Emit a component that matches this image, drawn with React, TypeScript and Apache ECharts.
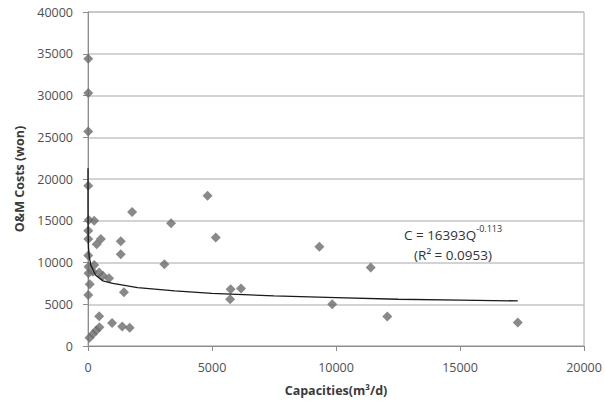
import React, { useEffect, useRef } from "react";
import * as echarts from "echarts";

// Observed data points (capacity m3/d, O&M cost won)
const capacities = [
  10, 10, 10, 10, 30, 250, 1780, 10, 10, 350, 520, 1320, 1320, 10,
  20, 250, 20, 200, 450, 600, 850, 70, 10, 1450,
  450, 60, 200, 330, 460, 970, 1380, 1680,
  3350, 3080, 4820, 5150, 5750, 6170, 5730, 9330, 9850, 11400, 12070, 17330,
];
const costs = [
  34400, 30300, 25700, 19200, 15100, 15000, 16050, 13800, 12800, 12200, 12800, 12550, 11000, 10850,
  9500, 9700, 8700, 8900, 8800, 8400, 8100, 7400, 6100, 6450,
  3550, 1000, 1450, 1850, 2250, 2750, 2350, 2200,
  14700, 9800, 18000, 13000, 6800, 6900, 5600, 11900, 4990, 9400, 3520, 2800,
];

// Power trendline
const trendQ = [0.1, 1, 5, 20, 50, 120, 300, 600, 1000, 2000, 3500, 5000, 7500, 10000, 12500, 15000, 17330];
const trendC = [21300, 16400, 13700, 11800, 10700, 9600, 8500, 7800, 7500, 7000, 6600, 6300, 6000, 5800, 5600, 5500, 5400];

const xTicks = { min: 0, max: 20000, interval: 5000 };
const yTicks = { min: 0, max: 40000, interval: 5000 };

const FONT = "'Open Sans', 'Liberation Sans', sans-serif";

export default function App() {
  const ref = useRef<HTMLDivElement>(null);
  useEffect(() => {
    if (!ref.current) return;
    const chart = echarts.init(ref.current, undefined, { renderer: "svg" });
    const scatterData = capacities.map((c, i) => [c, costs[i]]);
    const trendData = trendQ.map((q, i) => [q, trendC[i]]);
    const plain = (v: number) => String(v);
    chart.setOption({
      animation: false,
      backgroundColor: "#ffffff",
      grid: {
        left: 88,
        right: 21,
        top: 12,
        bottom: 61,
        show: true,
        borderColor: "#a6a6a6",
        borderWidth: 1,
      },
      xAxis: {
        type: "value",
        min: xTicks.min,
        max: xTicks.max,
        interval: xTicks.interval,
        name: "Capacities(m³/d)",
        nameLocation: "middle",
        nameGap: 38,
        nameTextStyle: { fontFamily: FONT, fontSize: 12.5, fontWeight: "bold", color: "#3a3a3a" },
        axisLine: { show: true, lineStyle: { color: "#8c8c8c", width: 1 } },
        axisTick: { show: true, length: 5, lineStyle: { color: "#8c8c8c" } },
        axisLabel: { margin: 15, fontFamily: FONT, fontSize: 12.5, color: "#505050", formatter: plain },
        splitLine: { show: false },
      },
      yAxis: {
        type: "value",
        min: yTicks.min,
        max: yTicks.max,
        interval: yTicks.interval,
        name: "O&M Costs (won)",
        nameLocation: "middle",
        nameGap: 56,
        nameTextStyle: { fontFamily: FONT, fontSize: 12.5, fontWeight: "bold", color: "#3a3a3a" },
        axisLine: { show: true, lineStyle: { color: "#8c8c8c", width: 1 } },
        axisTick: { show: true, length: 5, lineStyle: { color: "#8c8c8c" } },
        axisLabel: { margin: 15, fontFamily: FONT, fontSize: 12.5, color: "#505050", formatter: plain },
        splitLine: { show: true, lineStyle: { color: "#c4c4c4", width: 1.5 } },
      },
      series: [
        {
          type: "scatter",
          data: scatterData,
          symbol: "diamond",
          symbolSize: 10,
          itemStyle: { color: "#6b6b6b" },
          z: 2,
        },
        {
          type: "line",
          data: trendData,
          showSymbol: false,
          symbol: "none",
          smooth: false,
          lineStyle: { color: "#1a1a1a", width: 1.3 },
          z: 3,
        },
      ],
      graphic: [
        {
          type: "text",
          x: 453,
          y: 233,
          style: {
            text: "{a|C = 16393Q}{b|-0.113}",
            textAlign: "center",
            textVerticalAlign: "middle",
            rich: {
              a: { fontFamily: FONT, fontSize: 13.5, fill: "#333333", lineHeight: 18, verticalAlign: "bottom" },
              b: { fontFamily: FONT, fontSize: 9, fill: "#333333", lineHeight: 18, verticalAlign: "top", padding: [0, 0, 6, 0] },
            },
          },
        },
        {
          type: "text",
          x: 453,
          y: 255,
          style: {
            text: "(R² = 0.0953)",
            textAlign: "center",
            textVerticalAlign: "middle",
            fontFamily: FONT,
            fontSize: 13.5,
            fill: "#333333",
          },
        },
      ],
    });
    return () => chart.dispose();
  }, []);
  return (
    <div
      ref={ref}
      style={{ position: "fixed", left: 0, top: 0, width: 605, height: 407, background: "#fff" }}
    />
  );
}
